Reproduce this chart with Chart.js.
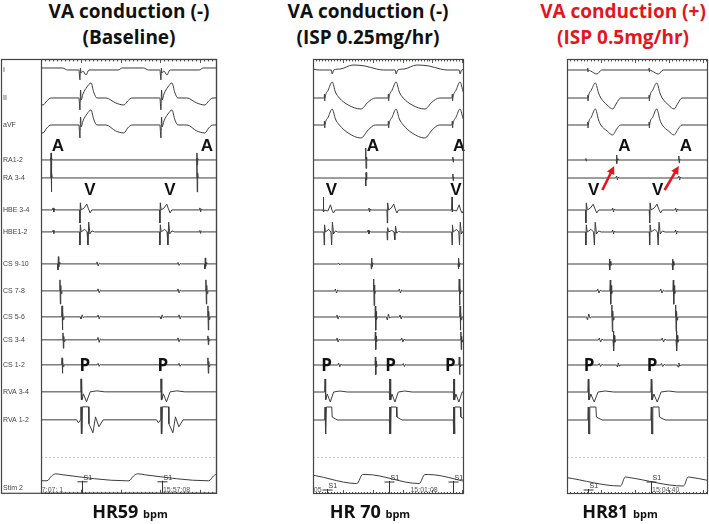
<!DOCTYPE html>
<html><head><meta charset="utf-8">
<script src="https://cdn.jsdelivr.net/npm/chart.js@4.4.1/dist/chart.umd.min.js"></script>
<style>
html,body{margin:0;padding:0;background:#fff;}
body{width:709px;height:524px;position:relative;overflow:hidden;font-family:'Open Sans',Lato,sans-serif;}
canvas{position:absolute;}
.title{position:absolute;width:280px;text-align:center;font-weight:700;font-size:19px;line-height:26px;color:#111;top:-2px;white-space:nowrap;}
.red{color:#e3161d;}
.hr{position:absolute;width:200px;text-align:center;font-weight:700;font-size:18px;color:#111;top:499px;white-space:nowrap;}
.hr span{font-size:11px;}
</style></head><body>
<div class="title" style="left:-11px">VA conduction (-)<br>(Baseline)</div>
<div class="title" style="left:228px">VA conduction (-)<br>(ISP 0.25mg/hr)</div>
<div class="title red" style="left:483px">VA conduction (+)<br>(ISP 0.5mg/hr)</div>
<canvas id="c1" width="220" height="450" style="left:0;top:50px"></canvas>
<canvas id="c2" width="205" height="450" style="left:265px;top:50px"></canvas>
<canvas id="c3" width="189" height="450" style="left:520px;top:50px"></canvas>
<div class="hr" style="left:30px">HR59 <span>bpm</span></div>
<div class="hr" style="left:270px">HR 70 <span>bpm</span></div>
<div class="hr" style="left:520px">HR81 <span>bpm</span></div>
<script>
// ---------- channel names ----------
const channels = ['I','II','aVF','RA1-2','RA 3-4','HBE 3-4','HBE1-2','CS 9-10','CS 7-8','CS 5-6','CS 3-4','CS 1-2','RVA 3-4','RVA 1-2','Stim 2'];
const smoothChannels = ['I','II','aVF','Stim 2'];

// ---------- waveform templates: [ms offset, amplitude] ----------
const tplASpike = [[-4,0],[0,1],[4,-0.7],[9,0.25],[16,0]];
const tplSmall  = [[-10,0],[0,1],[10,-1],[20,0.5],[30,0]];
const tplFF     = [[-10,0],[0,1],[15,-1],[30,0.4],[45,0]];
const tplCsA    = [[-5,0],[0,1],[5,-1.2],[10,0.5],[16,-0.25],[24,0]];
const tplHis34  = [[-5,0],[0,-1],[5,0.55],[16,0],[53,0.15],[86,0.45],[107,0.08],[128,-0.23],[150,0]];
const tplHis34b = [[-5,0],[0,1],[4,-0.15],[16,0],[60,-0.08],[95,0.4],[115,0],[135,-0.23],[160,0]];
const tplHis12  = [[-5,0],[0,-1],[5,0.55],[16,0],[60,0.2],[90,0],[100,-1],[110,0.75],[125,-0.15],[150,0.08],[180,0]];
const tplRva34  = [[-5,0],[0,13],[4,-8],[8,13],[13,-8],[30,-2],[70,-10],[115,0],[200,1],[300,0]];
const tplRva12a = [[-54,0],[-32,-3],[-5,0],[0,13],[4,-14],[8,13],[12,-14],[18,13],[95,13],[100,-4],[150,-13],[182,3],[225,-7],[278,0]];
const tplRva12b = [[-5,0],[0,13],[4,-14],[8,13],[12,-14],[18,13],[90,13],[96,3],[140,1],[170,0]];
const tplII1  = [[-13,0],[0,-12],[8,8],[15,-2],[38,4],[88,11],[138,15],[176,5],[213,0],[326,0],[450,-5],[552,-7],[600,-3],[653,0]];
const tplAVF1 = [[-13,0],[0,-13],[8,8],[15,-2],[38,4],[88,11],[138,15],[176,5],[213,0],[326,0],[450,-6],[552,-8],[600,-3],[653,0]];
const tplI1   = [[-13,0],[0,-10],[6,2],[13,-3],[38,-1],[75,-5],[113,0],[480,0],[530,2],[800,2],[860,0]];
const tplII2  = [[-10,0],[0,0],[3,4],[7,-3],[11,0],[54,8],[107,16],[150,6],[203,0],[321,-7],[492,-11],[589,-4],[685,0]];
const tplAVF2 = [[-10,0],[0,0],[3,4],[7,-3],[11,0],[54,8],[107,16],[150,6],[203,0],[321,-8],[492,-13],[589,-5],[685,0]];
const tplI2   = [[0,0],[96,0],[107,-4],[128,0],[214,1],[385,5],[546,4],[700,1],[790,0]];
const tplII3  = [[-9,0],[0,0],[3,3],[6,-3],[9,0],[46,8],[93,15],[130,5],[157,0],[231,-7],[296,-11],[343,-5],[389,0]];
const tplAVF3 = [[-9,0],[0,0],[3,3],[6,-3],[9,0],[46,8],[93,16],[130,5],[157,0],[231,-6],[296,-10],[343,-4],[389,0]];
const tplI3   = [[-9,0],[0,0],[3,2],[6,-2],[9,0],[37,-1],[111,-4],[167,0]];
const tplStim1 = [[0,-3],[60,2],[110,4],[200,3],[1000,-3]];
const tplStim2 = [[0,-5],[75,4],[120,4],[830,-5]];
const tplStim3 = [[0,-5],[55,4],[100,3.5],[740,-5]];

// ---------- events: [channel, template, time ms, gain] ----------
const p1Events = [
 ['I','I1',-527,1],['I','I1',489,1],['I','I1',1506,1],
 ['II','II1',-527,1],['II','II1',489,1],['II','II1',1506,1],
 ['aVF','AVF1',-527,1],['aVF','AVF1',489,1],['aVF','AVF1',1506,1],
 ['RA1-2','ASpike',126,7],['RA1-2','ASpike',1958,7],
 ['RA 3-4','ASpike',126,20],['RA 3-4','ASpike',1958,20],
 ['HBE 3-4','Small',151,2],['HBE 3-4','His34',489,13],['HBE 3-4','His34',1493,13],['HBE 3-4','Small',1995,2],
 ['HBE1-2','Small',151,1.5],['HBE1-2','His12',489,13],['HBE1-2','His12',1493,13],['HBE1-2','Small',1995,1.5],
 ['CS 9-10','CsA',213,-6],['CS 9-10','FF',703,2],['CS 9-10','FF',1719,1.5],['CS 9-10','CsA',2058,-5],
 ['CS 7-8','CsA',238,11],['CS 7-8','FF',716,2],['CS 7-8','FF',1719,2],['CS 7-8','CsA',2071,11],
 ['CS 5-6','CsA',264,11],['CS 5-6','FF',502,-2],['CS 5-6','FF',716,2],['CS 5-6','FF',1506,-2],['CS 5-6','FF',1732,2],['CS 5-6','CsA',2096,11],
 ['CS 3-4','CsA',276,7],['CS 3-4','FF',716,2.5],['CS 3-4','FF',1719,2],['CS 3-4','CsA',2096,4],
 ['CS 1-2','CsA',264,7],['CS 1-2','FF',716,1.5],['CS 1-2','FF',1732,1.5],['CS 1-2','CsA',2096,7],
 ['RVA 3-4','Rva34',502,1],['RVA 3-4','Rva34',1506,1],
 ['RVA 1-2','Rva12a',502,1],['RVA 1-2','Rva12a',1506,1],
 ['Stim 2','Stim1',-950,1],['Stim 2','Stim1',75,1],['Stim 2','Stim1',1104,1],['Stim 2','Stim1',2108,1]
];
const p2Events = [
 ['I','I2',-706,1],['I','I2',150,1],['I','I2',1006,1],['I','I2',1862,1],
 ['II','II2',-706,1],['II','II2',150,1],['II','II2',1006,1],['II','II2',1862,1],
 ['aVF','AVF2',-706,1],['aVF','AVF2',150,1],['aVF','AVF2',1006,1],['aVF','AVF2',1862,1],
 ['RA1-2','ASpike',706,12],['RA1-2','ASpike',1873,3],
 ['RA 3-4','ASpike',706,-8],['RA 3-4','ASpike',1873,4],
 ['HBE 3-4','His34b',139,13],['HBE 3-4','Small',749,2],['HBE 3-4','His34',995,13],['HBE 3-4','His34b',1862,13],
 ['HBE1-2','His12',150,13],['HBE1-2','Small',739,2],['HBE1-2','His12',995,8],['HBE1-2','His12',1862,13],
 ['CS 9-10','FF',343,1],['CS 9-10','CsA',781,-5],['CS 9-10','CsA',1947,-5],
 ['CS 7-8','FF',300,2],['CS 7-8','CsA',813,12],['CS 7-8','FF',1156,2],['CS 7-8','CsA',1958,12],
 ['CS 5-6','FF',321,2],['CS 5-6','CsA',835,11],['CS 5-6','FF',995,-3],['CS 5-6','FF',1166,2],['CS 5-6','CsA',1969,11],
 ['CS 3-4','FF',321,2],['CS 3-4','CsA',835,8],['CS 3-4','FF',1188,2],['CS 3-4','CsA',1980,8],
 ['CS 1-2','FF',343,2],['CS 1-2','CsA',835,8],['CS 1-2','FF',1209,1.5],['CS 1-2','CsA',1958,8],
 ['RVA 3-4','Rva34',161,1],['RVA 3-4','Rva34',1027,1],['RVA 3-4','Rva34',1883,1],
 ['RVA 1-2','Rva12b',161,1],['RVA 1-2','Rva12b',1027,1],['RVA 1-2','Rva12b',1883,1],
 ['Stim 2','Stim2',-1080,1],['Stim 2','Stim2',-246,1],['Stim 2','Stim2',589,1],['Stim 2','Stim2',1423,1]
];
const p3Events = [
 ['I','I3',-500,1],['I','I3',241,1],['I','I3',963,1],
 ['II','II3',-500,1],['II','II3',241,1],['II','II3',963,1],
 ['aVF','AVF3',-500,1],['aVF','AVF3',241,1],['aVF','AVF3',963,1],
 ['RA1-2','ASpike',222,1.5],['RA1-2','ASpike',583,5],['RA1-2','ASpike',1315,4],
 ['RA 3-4','Small',583,2],['RA 3-4','Small',1315,2],
 ['HBE 3-4','His34',222,13],['HBE 3-4','Small',537,2],['HBE 3-4','His34',972,13],['HBE 3-4','Small',1278,2],
 ['HBE1-2','His12',222,13],['HBE1-2','Small',537,2],['HBE1-2','His12',972,13],['HBE1-2','Small',1278,2],
 ['CS 9-10','CsA',500,5],['CS 9-10','CsA',1241,5],
 ['CS 7-8','FF',361,2],['CS 7-8','CsA',509,11],['CS 7-8','FF',1102,2],['CS 7-8','CsA',1250,11],
 ['CS 5-6','FF',241,-3],['CS 5-6','CsA',528,12],['CS 5-6','CsA',1278,12],
 ['CS 3-4','FF',380,2],['CS 3-4','CsA',546,9],['CS 3-4','FF',1120,2],['CS 3-4','CsA',1287,9],
 ['CS 1-2','FF',380,1.5],['CS 1-2','Small',593,-2],['CS 1-2','FF',1111,1.5],['CS 1-2','Small',1306,-2],
 ['RVA 3-4','Rva34',250,1],['RVA 3-4','Rva34',991,1],
 ['RVA 1-2','Rva12b',250,1],['RVA 1-2','Rva12b',991,1],
 ['Stim 2','Stim3',-851,1],['Stim 2','Stim3',-111,1],['Stim 2','Stim3',630,1],['Stim 2','Stim3',1370,1]
];

// ---------- annotations ----------
const p1Letters = [['A',213],['A',2083],['V',615],['V',1619],['P',552],['P',1531]];
const p2Letters = [['A',803],['A',1958],['V',246],['V',1915],['P',182],['P',1038],['P',1840]];
const p3Letters = [['A',676],['A',1398],['V',315],['V',1065],['P',259],['P',1000]];
const p1S1 = [[515,0],[1519,0]];
const p2S1 = [[182,1],[1017,0],[1873,0]];
const p3S1 = [[250,1],[991,0]];
const p1Stamps = [['7:07: 1',10],['15:57:08',1531]];
const p2Stamps = [['05',10],['15:01:08',1305]];
const p3Stamps = [['15:04:40',1000]];
const p3Arrows = [[416,555],[1148,1315]];

// ---------- layout (display rows, axis units from top) ----------
const TPL = {ASpike:tplASpike,Small:tplSmall,FF:tplFF,CsA:tplCsA,His34:tplHis34,His34b:tplHis34b,His12:tplHis12,
 Rva34:tplRva34,Rva12a:tplRva12a,Rva12b:tplRva12b,II1:tplII1,AVF1:tplAVF1,I1:tplI1,II2:tplII2,AVF2:tplAVF2,I2:tplI2,
 II3:tplII3,AVF3:tplAVF3,I3:tplI3,Stim1:tplStim1,Stim2:tplStim2,Stim3:tplStim3};
const ROWS = [11,39,66,101,119,151,173,205,232,258,281,306,333,361];
const LABEL_ROWS = [11,39,66,101,119,151,173,205,232,258,281,306,333,361,429];
const LETTER_ROW = {A:87, V:131, P:307};

function buildTrace(evts, base, xmin, xmax){
  const ev = evts.slice().sort((a,b)=>a[2]-b[2]);
  const pts = [{x:xmin-2000, y:base}];
  let lastX = xmin-2000;
  ev.forEach((e,i)=>{
    const tpl = TPL[e[1]];
    const nxt = ev[i+1];
    const lim = nxt ? nxt[2] + TPL[nxt[1]][0][0] : Infinity;
    tpl.forEach(([dt,a])=>{
      const x = e[2]+dt;
      if (x >= lim || x <= lastX) return;
      pts.push({x, y: base - e[3]*a});
      lastX = x;
    });
  });
  pts.push({x:xmax+2000, y:base});
  return pts;
}

function makePanel(id, o){
  const datasets = channels.map((ch,i)=>({
    label: ch,
    data: buildTrace(o.events.filter(e=>e[0]===ch), i<14 ? ROWS[i] : o.stimRow, 0, o.xmax),
    borderColor:'#3c3c3c', borderWidth:1, pointRadius:0, fill:false,
    cubicInterpolationMode: smoothChannels.includes(ch) ? 'monotone' : 'default',
    tension: smoothChannels.includes(ch) ? 0.4 : 0
  }));
  const deco = {
    id:'deco',
    afterDatasetsDraw(chart){
      const {ctx, chartArea:a, scales:{x,y}} = chart;
      ctx.save();
      ctx.strokeStyle='#c8c8c8'; ctx.lineWidth=1; ctx.setLineDash([2,2]);
      const gy = Math.round(y.getPixelForValue(398))+0.5;
      ctx.beginPath(); ctx.moveTo(a.left, gy); ctx.lineTo(a.right, gy); ctx.stroke();
      ctx.setLineDash([]);
      ctx.strokeStyle='#555';
      for (let t=0; t<=o.xmax; t+=o.ruler[0]){
        const px = Math.round(x.getPixelForValue(t))+0.5;
        const major = Math.abs(t % o.ruler[1]) < 1e-6;
        ctx.beginPath(); ctx.moveTo(px, a.top); ctx.lineTo(px, a.top + (major?4:2.5)); ctx.stroke();
        ctx.beginPath(); ctx.moveTo(px, a.bottom); ctx.lineTo(px, a.bottom - (major?4:2)); ctx.stroke();
      }
      ctx.strokeStyle='#333'; ctx.fillStyle='#333'; ctx.font='7px Arial';
      o.s1.forEach(([t,row])=>{
        const px = Math.round(x.getPixelForValue(t))+0.5;
        const top = y.getPixelForValue(row ? 430 : 422);
        ctx.beginPath(); ctx.moveTo(px, top); ctx.lineTo(px, a.bottom); ctx.stroke();
        ctx.beginPath(); ctx.moveTo(px-5, top+1); ctx.lineTo(px+5, top+1); ctx.stroke();
        ctx.fillText('S1', px+1, top-1);
      });
      ctx.fillStyle='#555';
      o.stamps.forEach(([s,t])=>{ ctx.fillText(s, x.getPixelForValue(t), a.bottom-2); });
      ctx.fillStyle='#111'; ctx.textAlign='center'; ctx.textBaseline='middle';
      o.letters.forEach(([s,t])=>{
        ctx.font = (s==='P' ? 'bold 17px "Open Sans"' : 'bold 17px "Liberation Sans", Arial');
        ctx.fillText(s, x.getPixelForValue(t), y.getPixelForValue(LETTER_ROW[s]));
      });
      (o.arrows||[]).forEach(([t0,t1])=>{
        const x0=x.getPixelForValue(t0), y0=y.getPixelForValue(131), x1=x.getPixelForValue(t1), y1=y.getPixelForValue(107);
        const ang=Math.atan2(y1-y0,x1-x0);
        ctx.strokeStyle='#e3161d'; ctx.fillStyle='#e3161d'; ctx.lineWidth=2.6;
        ctx.beginPath(); ctx.moveTo(x0,y0); ctx.lineTo(x1-5*Math.cos(ang), y1-5*Math.sin(ang)); ctx.stroke();
        ctx.beginPath(); ctx.moveTo(x1,y1);
        ctx.lineTo(x1-8*Math.cos(ang)+4*Math.sin(ang), y1-8*Math.sin(ang)-4*Math.cos(ang));
        ctx.lineTo(x1-8*Math.cos(ang)-4*Math.sin(ang), y1-8*Math.sin(ang)+4*Math.cos(ang));
        ctx.closePath(); ctx.fill();
      });
      ctx.strokeStyle='#444'; ctx.lineWidth=1.2;
      ctx.strokeRect(a.left+0.5, a.top+0.5, a.right-a.left-1, a.bottom-a.top-1);
      if (o.labels) ctx.strokeRect(1.5, a.top+0.5, a.right-2, a.bottom-a.top-1);
      ctx.restore();
    }
  };
  return new Chart(document.getElementById(id), {
    type:'line',
    data:{datasets},
    options:{
      responsive:false, animation:false, devicePixelRatio:1,
      layout:{padding:o.padding},
      plugins:{legend:{display:false}, tooltip:{enabled:false}},
      scales:{
        x:{type:'linear', min:0, max:o.xmax, display:false},
        y:{type:'linear', reverse:true, min:0, max:435, display:!!o.labels,
           afterBuildTicks:(s)=>{ s.ticks = LABEL_ROWS.map(v=>({value:v})); },
           afterFit:(s)=>{ s.width = 38; },
           grid:{display:false}, border:{display:false},
           ticks:{autoSkip:false, crossAlign:'far', padding:2, color:'#444', font:{size:7, family:'Arial'},
                  callback:(v,i)=>channels[i]}}
      }
    },
    plugins:[deco]
  });
}

makePanel('c1', {events:p1Events, xmax:2210, stimRow:419, letters:p1Letters, s1:p1S1, stamps:p1Stamps, ruler:[50,500], labels:true,
  padding:{left:3,right:3,top:9,bottom:6}});
makePanel('c2', {events:p2Events, xmax:2022, stimRow:419.5, letters:p2Letters, s1:p2S1, stamps:p2Stamps, ruler:[40,400],
  padding:{left:10,right:6,top:9,bottom:6}});
makePanel('c3', {events:p3Events, xmax:1658, stimRow:422, letters:p3Letters, s1:p3S1, stamps:p3Stamps, ruler:[40,400], arrows:p3Arrows,
  padding:{left:9,right:1,top:9,bottom:6}});
</script>
</body></html>
